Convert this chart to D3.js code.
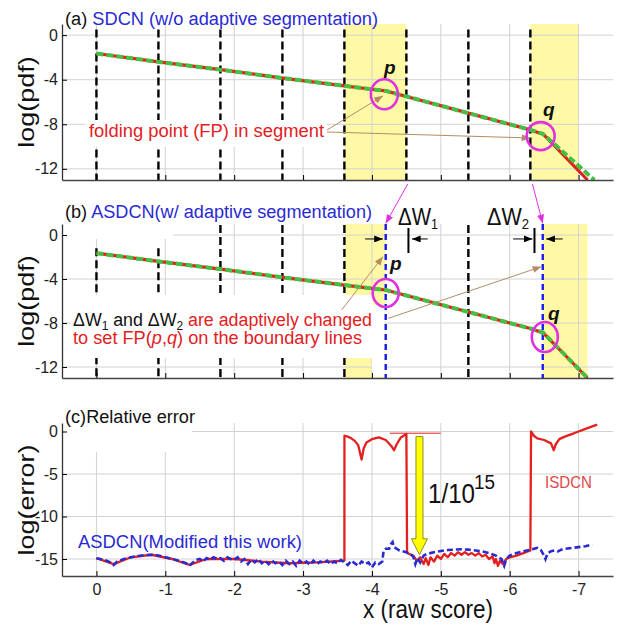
<!DOCTYPE html>
<html>
<head>
<meta charset="utf-8">
<script src="https://cdn.jsdelivr.net/npm/d3@7"></script>
<style>
body { margin: 0; background: #fff; }
text { font-family: "Liberation Sans", Arial, sans-serif; }
</style>
</head>
<body>
<div id="plotDiv"></div>
<script>
// --- Data ---
const xTicks = [0, -1, -2, -3, -4, -5, -6, -7];
const pdfTicks = [0, -4, -8, -12];
const errTicks = [0, -5, -10, -15];

// segment boundaries (a) and (b)
const segLinesA = [0, -0.9, -1.8, -2.7, -3.6, -4.5, -5.4, -6.3];
const segLinesB = [0, -0.9, -1.8, -2.7, -3.6, -5.4];
const fpLines = [-4.2, -6.48];
const yellowA = [[-3.6, -4.5], [-6.3, -7.0]];
const yellowB = [[-3.6, -4.2], [-6.48, -7.13]];

// log(pdf) curve
const pdfX = [0, -0.9, -1.8, -2.7, -3.6, -4.05, -4.2, -4.5, -5.4, -6.3, -6.4, -6.48, -7.13];
const pdfY = [-1.65, -2.4, -3.1, -3.85, -4.55, -4.9, -5.0, -5.5, -7.0, -8.5, -8.72, -8.85, -13.0];
const pdfGreenAX = [0, -0.9, -1.8, -2.7, -3.6, -4.05, -4.2, -4.5, -5.4, -6.3, -6.4, -6.48, -7.23];
const pdfGreenAY = [-1.65, -2.4, -3.1, -3.85, -4.55, -4.9, -5.0, -5.5, -7.0, -8.5, -8.72, -8.85, -13.0];

// relative error, ASDCN (blue)
const blueX = [0, -0.05, -0.1, -0.15, -0.2, -0.25, -0.3, -0.4, -0.5, -0.6, -0.7, -0.8, -0.9, -1.0, -1.1, -1.2, -1.3, -1.35, -1.4,
  -1.45, -1.5, -1.55, -1.6, -1.65, -1.7, -1.75, -1.8, -1.85, -1.9, -1.95, -2.0, -2.05, -2.1, -2.15, -2.2, -2.25, -2.3, -2.35, -2.4,
  -2.45, -2.5, -2.55, -2.6, -2.65, -2.7, -2.75, -2.8, -2.85, -2.9, -2.95, -3.0, -3.05, -3.1, -3.15, -3.2, -3.25, -3.3, -3.35, -3.4,
  -3.45, -3.5, -3.55, -3.6, -3.65, -3.7, -3.75, -3.8, -3.85, -3.9, -3.95, -4.0, -4.05, -4.1, -4.15,
  -4.17, -4.2, -4.25, -4.28, -4.3, -4.32, -4.4, -4.5, -4.55, -4.6, -4.63, -4.66, -4.7, -4.75, -4.8, -4.9, -5.0, -5.1, -5.2, -5.3,
  -5.4, -5.5, -5.6, -5.7, -5.8, -5.88, -5.92, -5.95, -6.0, -6.1, -6.2, -6.3, -6.4, -6.45, -6.5, -6.52, -6.55, -6.6, -6.65, -6.7,
  -6.75, -6.8, -6.9, -7.0, -7.1, -7.2];
const blueY = [-14.9, -15.0, -15.1, -15.2, -15.4, -15.7, -15.3, -15.0, -14.8, -14.65, -14.55, -14.5, -14.6, -14.8, -15.0, -15.2, -15.5, -15.8, -15.4,
  -15.1, -15.0, -15.3, -14.9, -15.1, -14.8, -15.0, -14.9, -15.2, -14.8, -15.0, -15.1, -14.8, -15.3, -15.0, -15.6, -15.1, -15.4, -15.0, -15.5,
  -15.2, -15.6, -15.2, -15.5, -15.3, -15.7, -15.2, -15.6, -15.3, -15.8, -15.2, -15.5, -15.3, -15.7, -15.2, -15.6, -15.3, -15.5, -15.2, -15.6,
  -15.3, -15.5, -15.1, -15.4, -15.7, -15.2, -15.5, -15.8, -15.3, -15.6, -15.4, -16.0, -15.4, -15.6, -15.3,
  -14.0, -13.8, -13.8, -13.2, -13.0, -13.6, -14.0, -14.2, -14.4, -14.7, -15.6, -14.9, -15.4, -14.6, -14.4, -14.2, -14.05, -13.95, -13.9, -13.85,
  -13.9, -14.0, -14.1, -14.3, -14.6, -15.0, -15.8, -15.0, -14.6, -14.3, -14.1, -13.9, -13.7, -13.9, -14.6, -15.0, -14.3, -14.1, -14.0, -14.1,
  -13.9, -13.8, -13.7, -13.6, -13.5, -13.3];

// relative error, ISDCN (red)
const redX = [0, -0.25, -0.5, -0.8, -1.1, -1.35, -1.6, -2.0, -2.4, -2.8, -3.2, -3.6,
  -3.601, -3.65, -3.7, -3.75, -3.8, -3.85, -3.88, -3.92, -4.0, -4.1, -4.2, -4.28, -4.32, -4.36, -4.42, -4.5,
  -4.51, -4.6, -4.65, -4.7, -4.75, -4.78, -4.82, -4.85, -4.9, -4.95, -5.0, -5.05, -5.1, -5.15, -5.2, -5.25, -5.3, -5.35,
  -5.4, -5.45, -5.5, -5.55, -5.6, -5.65, -5.7, -5.75, -5.78, -5.8, -5.83, -5.86, -5.9, -5.95, -6.0, -6.1, -6.2, -6.3,
  -6.31, -6.35, -6.4, -6.5, -6.6, -6.64, -6.67, -6.72, -6.8, -6.9, -7.0, -7.1, -7.2, -7.27];
const redY = [-14.9, -15.6, -14.8, -14.5, -15.0, -15.7, -15.0, -15.0, -15.3, -15.5, -15.4, -15.2,
  -0.5, -0.6, -0.8, -1.1, -1.6, -3.3, -2.0, -1.3, -0.9, -0.7, -1.0, -1.7, -2.2, -1.5, -0.7, -0.3,
  -14.3, -14.6, -15.2, -14.8, -15.6, -14.9, -15.7, -14.8, -15.3, -14.6, -15.0, -14.4, -14.8, -14.3, -14.6, -14.2, -14.5, -14.2,
  -14.5, -14.3, -14.6, -14.3, -14.7, -14.5, -15.0, -14.7, -15.5, -15.0, -15.8, -15.2, -15.6, -15.0, -14.8, -14.6, -14.3, -14.0,
  0.0, -0.5, -0.8, -1.0, -1.4, -2.2, -1.5, -0.9, -0.6, -0.3, 0.0, 0.3, 0.6, 0.8];

// --- Layout ---
const xLeft = 62, xRight = 613;
const x = d3.scaleLinear().domain([0.5, -7.5]).range([xLeft, xRight]);
const yA = d3.scaleLinear().domain([-13, 1]).range([180, 24]);
const yB = d3.scaleLinear().domain([-13, 1]).range([378, 224]);
const yC = d3.scaleLinear().domain([-17, 1]).range([576, 423]);

const blue = "#2a2ad2", red = "#e3201e", green = "#45c045", magenta = "#e030e0", tan = "#b48c64", yellow = "#fff9a6";

const svg = d3.select("#plotDiv").append("svg")
  .attr("width", 624).attr("height", 624)
  .style("font-family", "Liberation Sans, Arial, sans-serif");

// arrow heads
const defs = svg.append("defs");
[["mag", magenta], ["tan", tan], ["blk", "#000"]].forEach(([id, c]) => {
  defs.append("marker").attr("id", "ah-" + id)
    .attr("viewBox", "0 0 10 8").attr("refX", 10).attr("refY", 4)
    .attr("markerWidth", 9).attr("markerHeight", 7).attr("markerUnits", "userSpaceOnUse")
    .attr("orient", "auto")
    .append("path").attr("d", "M0,0 L10,4 L0,8 Z").attr("fill", c);
});

function grid(y, yTicks) {
  const g = svg.append("g").attr("class", "grid");
  g.selectAll("line.h").data(yTicks).join("line").attr("class", "h")
    .attr("x1", xLeft).attr("x2", xRight).attr("y1", d => y(d)).attr("y2", d => y(d))
    .attr("stroke", "#d2d2d2").attr("stroke-width", 1);
  g.selectAll("line.v").data(xTicks).join("line").attr("class", "v")
    .attr("x1", d => x(d)).attr("x2", d => x(d)).attr("y1", y.range()[1]).attr("y2", y.range()[0])
    .attr("stroke", "#d2d2d2").attr("stroke-width", 1);
}

function axes(y, yTicks, withXLabels) {
  const ax = svg.append("g").attr("transform", `translate(${xLeft},0)`)
    .call(d3.axisLeft(y).tickValues(yTicks).tickSizeInner(-5).tickSizeOuter(0).tickPadding(4).tickFormat(d => String(d)));
  ax.select(".domain").attr("stroke", "#333").attr("stroke-width", 1.3);
  ax.selectAll("text").attr("font-size", 16).attr("fill", "#222").attr("font-family", "Liberation Sans, Arial, sans-serif");
  const bx = svg.append("g").attr("transform", `translate(0,${y.range()[0]})`)
    .call(d3.axisBottom(x).tickValues(xTicks).tickSizeInner(-5).tickSizeOuter(0).tickPadding(8)
      .tickFormat(d => withXLabels ? String(d) : ""));
  bx.select(".domain").attr("stroke", "#444").attr("stroke-width", 1.6);
  bx.selectAll("text").attr("font-size", 16).attr("fill", "#222").attr("font-family", "Liberation Sans, Arial, sans-serif");
}

function label(txt, px, py, size, opts = {}) {
  const t = svg.append("text").attr("x", px).attr("y", py).attr("font-size", size)
    .attr("fill", opts.fill || "#111");
  if (opts.len) t.attr("textLength", opts.len).attr("lengthAdjust", "spacingAndGlyphs");
  if (opts.weight) t.attr("font-weight", opts.weight);
  if (opts.style) t.attr("font-style", opts.style);
  if (opts.parts) {
    opts.parts.forEach(p => {
      const s = t.append("tspan").text(p.t).attr("fill", p.c || opts.fill || "#111");
      if (p.size) s.attr("font-size", p.size);
      if (p.dy) s.attr("dy", p.dy);
      if (p.it) s.attr("font-style", "italic");
    });
  } else t.text(txt);
  return t;
}

function whiteBox(x0, y0, x1, y1) {
  svg.append("rect").attr("x", x0).attr("y", y0).attr("width", x1 - x0).attr("height", y1 - y0).attr("fill", "#fff");
}

function arrow(x1, y1, x2, y2, color, id, w = 1) {
  svg.append("line").attr("x1", x1).attr("y1", y1).attr("x2", x2).attr("y2", y2)
    .attr("stroke", color).attr("stroke-width", w).attr("marker-end", `url(#ah-${id})`);
}

function ring(cx, cy, rx, ry) {
  svg.append("ellipse").attr("cx", cx).attr("cy", cy).attr("rx", rx).attr("ry", ry)
    .attr("fill", "none").attr("stroke", magenta).attr("stroke-width", 2.6);
}

const pdfLine = y => d3.line().x(d => x(d[0])).y(d => y(d[1]));
const redPts = d3.zip(pdfX, pdfY);
const greenA = d3.zip(pdfGreenAX, pdfGreenAY);

// ===== Panel (a) =====
svg.append("g").selectAll("rect").data(yellowA).join("rect")
  .attr("x", d => x(d[0])).attr("width", d => x(d[1]) - x(d[0]))
  .attr("y", yA(1)).attr("height", yA(-13) - yA(1)).attr("fill", yellow);
grid(yA, pdfTicks);
svg.append("g").selectAll("line").data(segLinesA).join("line")
  .attr("x1", d => x(d)).attr("x2", d => x(d)).attr("y1", yA(0.5)).attr("y2", yA(-13))
  .attr("stroke", "#000").attr("stroke-width", 2.4).attr("stroke-dasharray", "8,4");
whiteBox(85, 120, 327, 147);
svg.append("path").datum(redPts).attr("d", pdfLine(yA)).attr("fill", "none")
  .attr("stroke", red).attr("stroke-width", 3.2);
svg.append("path").datum(greenA).attr("d", pdfLine(yA)).attr("fill", "none")
  .attr("stroke", green).attr("stroke-width", 4).attr("stroke-dasharray", "7,3");
axes(yA, pdfTicks, false);

// ===== Panel (b) =====
svg.append("g").selectAll("rect").data(yellowB).join("rect")
  .attr("x", d => x(d[0])).attr("width", d => x(d[1]) - x(d[0]))
  .attr("y", yB(1)).attr("height", yB(-13) - yB(1)).attr("fill", yellow);
grid(yB, pdfTicks);
svg.append("g").selectAll("line").data(segLinesB).join("line")
  .attr("x1", d => x(d)).attr("x2", d => x(d)).attr("y1", d => d > -1 ? yB(-1.2) : yB(0.9)).attr("y2", yB(-13))
  .attr("stroke", "#000").attr("stroke-width", 2.4).attr("stroke-dasharray", "8,4");
whiteBox(62, 204, 173, 239);
whiteBox(70, 295, 373, 358);
whiteBox(372, 305, x(-4.2) - 1, 377);
svg.append("g").selectAll("line").data(fpLines).join("line")
  .attr("x1", d => x(d)).attr("x2", d => x(d)).attr("y1", yB(1)).attr("y2", yB(-13))
  .attr("stroke", "#1a1af0").attr("stroke-width", 2.4).attr("stroke-dasharray", "6,4");
svg.append("path").datum(redPts).attr("d", pdfLine(yB)).attr("fill", "none")
  .attr("stroke", red).attr("stroke-width", 3.2);
svg.append("path").datum(redPts).attr("d", pdfLine(yB)).attr("fill", "none")
  .attr("stroke", green).attr("stroke-width", 4).attr("stroke-dasharray", "7,3");
axes(yB, pdfTicks, false);

// ===== Panel (c) =====
grid(yC, errTicks);
whiteBox(62, 422, 192, 452);
svg.append("path").datum(d3.zip(redX, redY)).attr("d", d3.line().x(d => x(d[0])).y(d => yC(d[1])))
  .attr("fill", "none").attr("stroke", red).attr("stroke-width", 2.3).attr("stroke-linejoin", "round");
svg.append("path").datum(d3.zip(blueX, blueY)).attr("d", d3.line().x(d => x(d[0])).y(d => yC(d[1])))
  .attr("fill", "none").attr("stroke", blue).attr("stroke-width", 2.6).attr("stroke-dasharray", "6,3");
// reference level line
svg.append("line").attr("x1", x(-4.26)).attr("x2", x(-5.0)).attr("y1", yC(-0.2)).attr("y2", yC(-0.2))
  .attr("stroke", red).attr("stroke-width", 1);
axes(yC, errTicks, true);

// ===== Annotations (a) =====
label(null, 65, 25, 18, { len: 313, parts: [{ t: "(a) " }, { t: "SDCN (w/o adaptive segmentation)", c: blue }] });
label("folding point (FP) in segment", 89, 137, 18, { fill: red, len: 235 });
arrow(327, 130, x(-4.16), yA(-5.45), tan, "tan");
arrow(327, 132, x(-6.3), yA(-9.23), tan, "tan");
ring(x(-4.18), yA(-5.3), 13.5, 15);
ring(x(-6.45), yA(-9.06), 14, 14);
label("p", 384, 74, 19, { weight: "bold", style: "italic" });
label("q", 543, 116, 19, { weight: "bold", style: "italic" });

// magenta links between (a) and (b)
arrow(x(-4.52), yA(-13.35), x(-4.2), yB(1.05), magenta, "mag");
arrow(x(-6.33), yA(-13.35), x(-6.48), yB(1.05), magenta, "mag");

// ===== Annotations (b) =====
label(null, 65, 218, 18, { len: 307, parts: [{ t: "(b) " }, { t: "ASDCN(w/ adaptive segmentation)", c: blue }] });
label(null, 398, 225, 23, { len: 40, parts: [{ t: "\u0394W" }, { t: "1", size: 14, dy: 4 }] });
label(null, 487, 225, 23, { len: 42, parts: [{ t: "\u0394W" }, { t: "2", size: 14, dy: 4 }] });
[-4.53, -6.36].forEach(v => {
  svg.append("line").attr("x1", x(v)).attr("x2", x(v)).attr("y1", yB(0.64)).attr("y2", yB(-1.64))
    .attr("stroke", "#000").attr("stroke-width", 2);
});
arrow(x(-3.9), yB(-0.36), x(-4.16), yB(-0.36), "#000", "blk");
arrow(x(-4.81), yB(-0.36), x(-4.58), yB(-0.36), "#000", "blk");
arrow(x(-6.05), yB(-0.36), x(-6.33), yB(-0.36), "#000", "blk");
arrow(x(-6.77), yB(-0.36), x(-6.53), yB(-0.36), "#000", "blk");
label(null, 73, 326, 18, { len: 299, parts: [
  { t: "\u0394W" }, { t: "1", size: 12, dy: 4 }, { t: " and \u0394W", dy: -4 }, { t: "2", size: 12, dy: 4 },
  { t: " are adaptively changed", c: red, dy: -4 }] });
label(null, 73, 344, 18, { len: 289, fill: red, parts: [
  { t: "to set FP(" }, { t: "p", it: true }, { t: "," }, { t: "q", it: true }, { t: ") on the boundary lines" }] });
arrow(x(-3.56), yB(-6.82), x(-4.16), yB(-1.97), tan, "tan");
arrow(x(-4.24), yB(-7.57), x(-6.46), yB(-2.88), tan, "tan");
ring(x(-4.2), yB(-5.27), 13, 14);
ring(x(-6.51), yB(-9.27), 13, 15);
label("p", 390, 270, 19, { weight: "bold", style: "italic" });
label("q", 548, 320, 19, { weight: "bold", style: "italic" });

// ===== Annotations (c) =====
label("(c)Relative error", 65, 423, 18, { len: 130 });
{
  const cx = x(-4.69), yt = yC(-0.6), tip = yC(-14.5);
  svg.append("path")
    .attr("d", `M${cx - 3.5},${yt} L${cx + 3.5},${yt} L${cx + 3.5},${tip - 16} L${cx + 8},${tip - 16} L${cx},${tip} L${cx - 8},${tip - 16} L${cx - 3.5},${tip - 16} Z`)
    .attr("fill", "#ffff00").attr("stroke", "#8c8c20").attr("stroke-width", 1);
}
label("1/10", 428, 503, 28, { len: 47 });
label("15", 474, 489, 20, { len: 21 });
label("ISDCN", 545, 488, 17, { fill: "#e04848", len: 47 });
label("ASDCN(Modified this work)", 78, 548, 18, { fill: blue, len: 224 });

// axis titles
[["log(pdf)", 102], ["log(pdf)", 301], ["log(error)", 500]].forEach(([t, cy]) => {
  svg.append("text").attr("transform", `translate(34,${cy}) scale(0.85,1) rotate(-90)`)
    .attr("text-anchor", "middle").attr("font-size", 27).attr("fill", "#111").text(t);
});
svg.append("text").attr("x", 428).attr("y", 618).attr("text-anchor", "middle")
  .attr("font-size", 26).attr("textLength", 130).attr("lengthAdjust", "spacingAndGlyphs")
  .attr("fill", "#111").text("x (raw score)");
</script>
</body>
</html>
